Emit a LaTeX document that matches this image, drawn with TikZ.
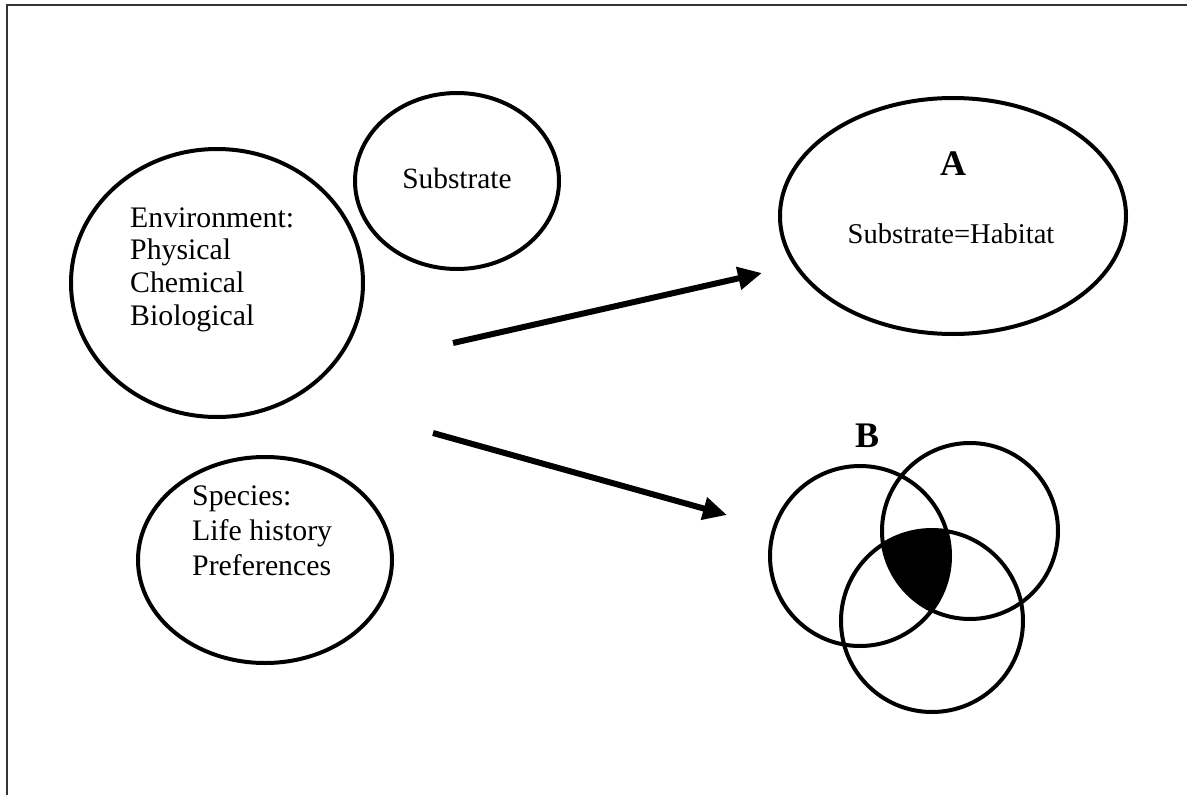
\documentclass[tikz,border=0pt]{standalone}
\usepackage{fontspec}
\setmainfont{Liberation Serif}
\usetikzlibrary{arrows.meta,shapes.geometric}
\begin{document}
\begin{tikzpicture}[x=1pt,y=-1pt,
  ring/.style={draw,line width=4pt,ellipse,inner sep=0pt},
  vring/.style={draw,line width=4pt,circle,inner sep=0pt},
  lbl/.style={anchor=base west,inner sep=0pt,font=\fontsize{29.8}{33}\selectfont},
  clbl/.style={anchor=base,inner sep=0pt,font=\fontsize{28.6}{33}\selectfont},
  big/.style={anchor=base,inner sep=0pt,font=\fontsize{36}{40}\selectfont\bfseries},
  fat/.style={line width=6pt,-{Triangle[length=24pt,width=22pt]}},
  frameline/.style={line width=1.6pt,black!80}]
\useasboundingbox (0,0) rectangle (1187,795);
% frame
\coordinate (fl) at (7,795);
\coordinate (fc) at (7,5);
\coordinate (fr) at (1187,5);
\draw[frameline] (fl) -- (fc) -- (fr);
% left ellipses
\node[ring,minimum width=292pt,minimum height=268pt] (env) at (217,283) {};
\node[ring,minimum width=204pt,minimum height=176pt] (sub) at (457,181) {};
\node[ring,minimum width=254pt,minimum height=206pt] (spe) at (265,560) {};
% texts
\node[clbl,font=\fontsize{29.4}{33}\selectfont] (subt) at (457,188) {Substrate};
\node[lbl] (e1) at (130,227) {Environment:};
\node[lbl] (e2) at (130,259) {Physical};
\node[lbl] (e3) at (130,292) {Chemical};
\node[lbl] (e4) at (130,325) {Biological};
\node[lbl] (s1) at (192,505) {Species:};
\node[lbl] (s2) at (192,540) {Life history};
\node[lbl] (s3) at (192,575) {Preferences};
% A
\node[ring,minimum width=346pt,minimum height=236pt] (aell) at (953,216) {};
\node[big] (alab) at (953,175) {A};
\node[clbl] (at) at (951,243) {Substrate=Habitat};
% B venn
\node[vring,minimum size=180pt] (v1) at (860,556) {};
\node[vring,minimum size=176pt] (v2) at (970,531) {};
\node[vring,minimum size=182pt] (v3) at (932,621) {};
\begin{scope}
  \clip (v1.center) circle[radius=90];
  \clip (v2.center) circle[radius=88];
  \fill (v3.center) circle[radius=91];
\end{scope}
\node[big] (blab) at (867,447) {B};
% arrows
\coordinate (a1s) at (453,343);
\coordinate (a1e) at (762,273);
\coordinate (a2s) at (433,433);
\coordinate (a2e) at (727,515);
\draw[fat] (a1s) -- (a1e);
\draw[fat] (a2s) -- (a2e);
\end{tikzpicture}
\end{document}
